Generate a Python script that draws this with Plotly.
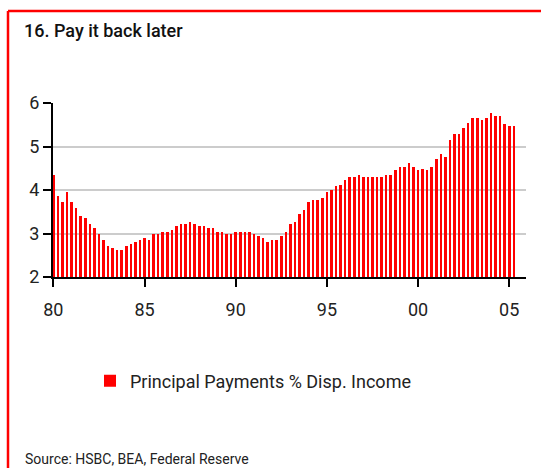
import plotly.graph_objects as go

# Quarterly principal payments as % of disposable income, 1980Q1 - 2005Q2
start_year = 1980
principal_pct = [
    4.35, 3.87, 3.73, 3.96, 3.73, 3.59, 3.41, 3.36, 3.22, 3.13, 2.99, 2.85,
    2.72, 2.67, 2.62, 2.62, 2.72, 2.76, 2.81, 2.85, 2.90, 2.85, 2.99, 2.99,
    3.04, 3.04, 3.08, 3.18, 3.22, 3.22, 3.27, 3.22, 3.18, 3.18, 3.13, 3.13,
    3.04, 3.04, 2.99, 2.99, 3.04, 3.04, 3.04, 3.04, 2.99, 2.95, 2.90, 2.81,
    2.85, 2.85, 2.95, 3.04, 3.22, 3.27, 3.45, 3.55, 3.73, 3.78, 3.78, 3.82,
    3.96, 4.01, 4.10, 4.12, 4.22, 4.31, 4.31, 4.35, 4.31, 4.31, 4.31, 4.31,
    4.31, 4.35, 4.35, 4.45, 4.54, 4.54, 4.63, 4.54, 4.45, 4.49, 4.45, 4.54,
    4.72, 4.82, 4.77, 5.14, 5.28, 5.28, 5.42, 5.55, 5.65, 5.65, 5.60, 5.65,
    5.78, 5.69, 5.69, 5.51, 5.46, 5.46,
]
quarter_pos = [start_year + i / 4 for i in range(len(principal_pct))]

tick_years = [1980, 1985, 1990, 1995, 2000, 2005]
tick_labels = ["80", "85", "90", "95", "00", "05"]
y_ticks = [2, 3, 4, 5, 6]

title_text = "16. Pay it back later"
series_name = "Principal Payments % Disp. Income"
source_text = "Source: HSBC, BEA, Federal Reserve"

RED = "#ff0000"
TEXT = "#222222"
FONT = "Roboto, Liberation Sans, sans-serif"

W, H = 541, 468
ML, MR, MT, MB = 53, 15, 103, 191
plot_h = H - MT - MB
plot_w = W - ML - MR


def px_to_paper_x(px):
    return (px - ML) / plot_w


def px_to_paper_y(py):
    return (H - MB - py) / plot_h


fig = go.Figure()
fig.add_trace(go.Bar(
    x=quarter_pos,
    y=principal_pct,
    width=0.14,
    marker=dict(color=RED, line=dict(width=0)),
    name=series_name,
    showlegend=True,
))

fig.update_layout(
    width=W,
    height=H,
    margin=dict(l=ML, r=MR, t=MT, b=MB, pad=0),
    paper_bgcolor="white",
    plot_bgcolor="white",
    font=dict(family=FONT, color=TEXT, size=17),
    bargap=0,
    showlegend=True,
    legend=dict(
        orientation="h",
        x=px_to_paper_x(90),
        xanchor="left",
        y=px_to_paper_y(381),
        yanchor="middle",
        font=dict(family=FONT, size=18, color=TEXT),
        bgcolor="rgba(0,0,0,0)",
        itemwidth=30,
    ),
    xaxis=dict(
        range=[1979.98, 2005.92],
        tickmode="array",
        tickvals=tick_years,
        ticktext=tick_labels,
        ticks="outside",
        ticklen=8,
        tickwidth=2,
        tickcolor="black",
        ticklabelstandoff=7,
        showline=True,
        linecolor="black",
        linewidth=2,
        showgrid=False,
        zeroline=False,
        tickfont=dict(family=FONT, size=18, color=TEXT),
    ),
    yaxis=dict(
        range=[2, 6],
        tickmode="array",
        tickvals=y_ticks,
        ticks="outside",
        ticklen=8,
        tickwidth=2,
        tickcolor="black",
        showline=True,
        linecolor="black",
        linewidth=2,
        showgrid=True,
        gridcolor="#cccccc",
        gridwidth=2,
        zeroline=False,
        tickfont=dict(family=FONT, size=18, color=TEXT),
    ),
)

# Red frame along the top and left side of the panel
fig.add_shape(type="line", xref="paper", yref="paper",
              x0=px_to_paper_x(8), x1=px_to_paper_x(W + 2),
              y0=px_to_paper_y(11), y1=px_to_paper_y(11),
              line=dict(color=RED, width=2.5))
fig.add_shape(type="line", xref="paper", yref="paper",
              x0=px_to_paper_x(8), x1=px_to_paper_x(8),
              y0=px_to_paper_y(11), y1=px_to_paper_y(H + 2),
              line=dict(color=RED, width=2.5))

fig.add_annotation(
    text=title_text, xref="paper", yref="paper",
    x=px_to_paper_x(22), y=px_to_paper_y(30),
    xanchor="left", yanchor="middle", showarrow=False,
    font=dict(family=FONT, size=18, color="#111111", weight=500),
)
fig.add_annotation(
    text=source_text, xref="paper", yref="paper",
    x=px_to_paper_x(23), y=px_to_paper_y(459),
    xanchor="left", yanchor="middle", showarrow=False,
    font=dict(family=FONT, size=14, color=TEXT),
)

fig.write_html("out.html")
